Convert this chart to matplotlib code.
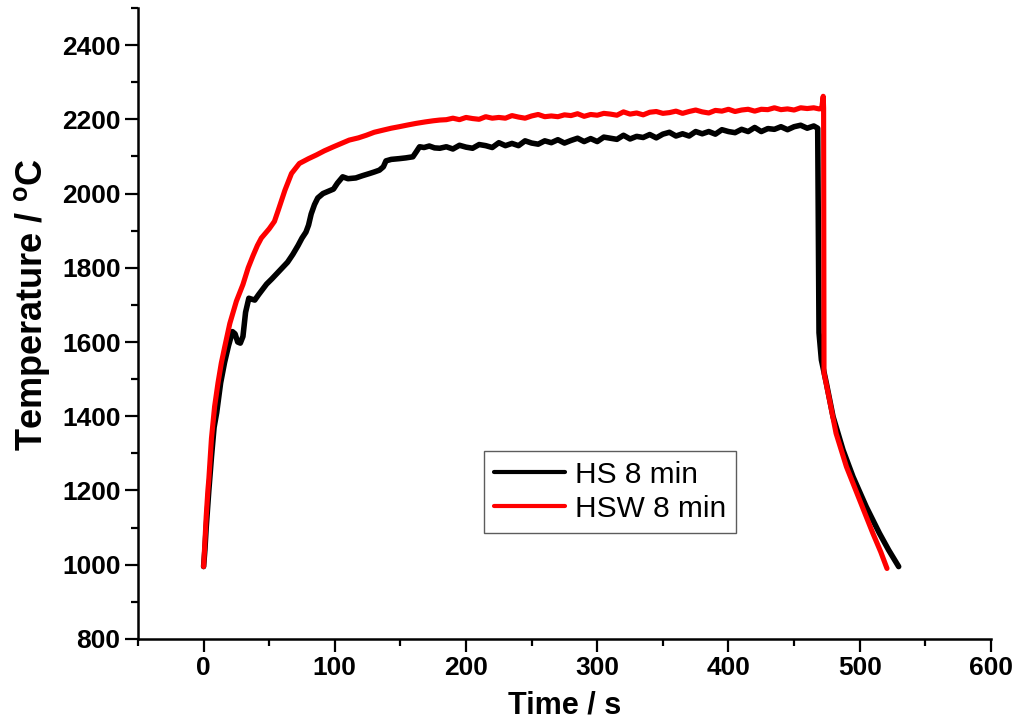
import matplotlib
matplotlib.use("Agg")
import matplotlib.pyplot as plt
from matplotlib.ticker import MultipleLocator

# HS 8 min (black)
hs_t = [0, 1, 2, 4, 6, 8, 10, 13, 16, 19, 22, 24, 26, 28, 30, 32, 34.5, 37, 39,
        42, 45, 48, 52, 56, 60, 64, 68, 72, 75, 78, 80, 82, 84.5, 87, 91, 95, 99,
        102, 106, 110, 116, 121, 126.5, 130, 134, 137, 139, 143, 149, 154, 159.5,
        162, 164.6, 168, 172, 176, 180,
        185, 190, 195, 200, 205, 210, 215, 220, 225, 230, 235, 240, 245, 250, 255,
        260, 265, 270, 275, 280, 285, 290, 295, 300, 305, 310, 315, 320, 325, 330,
        335, 340, 345, 350, 355, 360, 365, 370, 375, 380, 385, 390, 395, 400, 405,
        410, 415, 420, 425, 430, 435, 440, 445, 450, 455, 460, 465, 468,
        468.5, 469, 470.8, 474.6, 479.7, 487.3, 494.9, 505, 515, 522, 529.7]
hs_temp = [995, 1040, 1100, 1200, 1290, 1370, 1410, 1490, 1545, 1590, 1628, 1622,
           1600, 1597, 1615, 1680, 1718, 1715, 1713, 1728, 1742, 1756, 1770, 1785,
           1800, 1815, 1836, 1860, 1880, 1896, 1915, 1945, 1970, 1988, 2000, 2006,
           2012, 2028, 2045, 2040, 2042, 2048, 2054, 2058, 2063, 2072, 2088, 2092,
           2094, 2096, 2099, 2112, 2126, 2124, 2128, 2123, 2122,
           2126, 2120, 2130, 2125, 2122, 2132, 2129, 2124, 2137, 2129, 2135, 2129,
           2142, 2136, 2133, 2142, 2137, 2145, 2136, 2143, 2149, 2140, 2148, 2140,
           2152, 2149, 2146, 2157, 2147, 2154, 2151, 2159, 2150, 2160, 2165, 2155,
           2161, 2155, 2167, 2161, 2167, 2160, 2172, 2167, 2164, 2173, 2167, 2178,
           2167, 2175, 2173, 2180, 2172, 2180, 2184, 2176, 2182, 2176,
           1900, 1625, 1552, 1489, 1399, 1309, 1237, 1156, 1085, 1040, 995]

# HSW 8 min (red)
hsw_t = [0, 1, 2, 3.3, 4, 6, 8.4, 11, 13.5, 16, 20, 25, 30, 34, 37.6, 41, 44, 50,
         54, 57, 62, 67, 73, 80, 86, 92, 99, 105, 111, 118, 124, 130, 137, 143,
         149, 156, 162, 169, 175, 180,
         185, 190, 195, 200, 205, 210, 215, 220, 225, 230, 235, 240, 245, 250, 255,
         260, 265, 270, 275, 280, 285, 290, 295, 300, 305, 310, 315, 320, 325, 330,
         335, 340, 345, 350, 355, 360, 365, 370, 375, 380, 385, 390, 395, 400, 405,
         410, 415, 420, 425, 430, 435, 440, 445, 450, 455, 460, 465, 469, 471,
         472.2, 472.5, 472.8, 477, 482, 489.9, 500, 510, 516, 520.8]
hsw_temp = [995, 1060, 1130, 1201, 1230, 1340, 1426, 1490, 1543, 1585, 1650, 1710,
            1755, 1800, 1832, 1860, 1880, 1905, 1925, 1956, 2009, 2054, 2081, 2094,
            2104, 2115, 2126, 2135, 2144, 2150, 2157, 2165, 2171, 2176, 2180, 2185,
            2189, 2193, 2196, 2198,
            2199, 2203, 2199, 2205, 2202, 2200, 2207, 2203, 2205, 2203, 2210, 2206,
            2203, 2209, 2213, 2207, 2209, 2207, 2212, 2210, 2215, 2208, 2213, 2211,
            2216, 2214, 2211, 2220, 2214, 2217, 2212, 2219, 2221, 2216, 2218, 2222,
            2216, 2221, 2225, 2220, 2217, 2224, 2222, 2227, 2221, 2225, 2227, 2222,
            2227, 2226, 2231, 2226, 2228, 2225, 2231, 2229, 2231, 2228, 2229,
            2262, 2230, 1517, 1444, 1354, 1264, 1174, 1085, 1035, 990]

plt.rcParams['font.family'] = ['Liberation Sans', 'DejaVu Sans']

fig = plt.figure(figsize=(10.13, 7.22), dpi=100)
ax = fig.add_axes([0.1362, 0.115, 0.842, 0.874])

ax.plot(hs_t, hs_temp, color='black', lw=4.0, label='HS 8 min',
        solid_joinstyle='round', solid_capstyle='round')
ax.plot(hsw_t, hsw_temp, color='#ff0000', lw=3.7, label='HSW 8 min',
        solid_joinstyle='round', solid_capstyle='round')

ax.set_xlim(-50, 600)
ax.set_ylim(800, 2500)
ax.xaxis.set_major_locator(MultipleLocator(100))
ax.xaxis.set_minor_locator(MultipleLocator(50))
ax.yaxis.set_major_locator(MultipleLocator(200))
ax.yaxis.set_minor_locator(MultipleLocator(100))

for side in ['top', 'right']:
    ax.spines[side].set_visible(False)
for side in ['left', 'bottom']:
    ax.spines[side].set_linewidth(1.8)

ax.tick_params(which='major', direction='out', length=9.5, width=1.6,
               labelsize=19, pad=3)
ax.tick_params(which='minor', direction='out', length=5, width=1.6)
for lbl in ax.get_xticklabels() + ax.get_yticklabels():
    lbl.set_fontweight('bold')

ax.set_xlabel('Time / s', fontsize=22, fontweight='bold', labelpad=7)
ax.set_ylabel('Temperature / $\\mathregular{^o}$C', fontsize=26,
              fontweight='bold')
ax.yaxis.set_label_coords(-0.101, 0.53)

leg = ax.legend(loc='upper left', bbox_to_anchor=(0.4056, 0.298),
                borderaxespad=0, fontsize=21.5, frameon=True, fancybox=False,
                handlelength=2.4, handletextpad=0.33, labelspacing=0.2,
                borderpad=0.33)
leg.get_frame().set_edgecolor('#333333')
leg.get_frame().set_linewidth(1.0)
for line in leg.get_lines():
    line.set_linewidth(3)

fig.savefig('out.png', dpi=100)
